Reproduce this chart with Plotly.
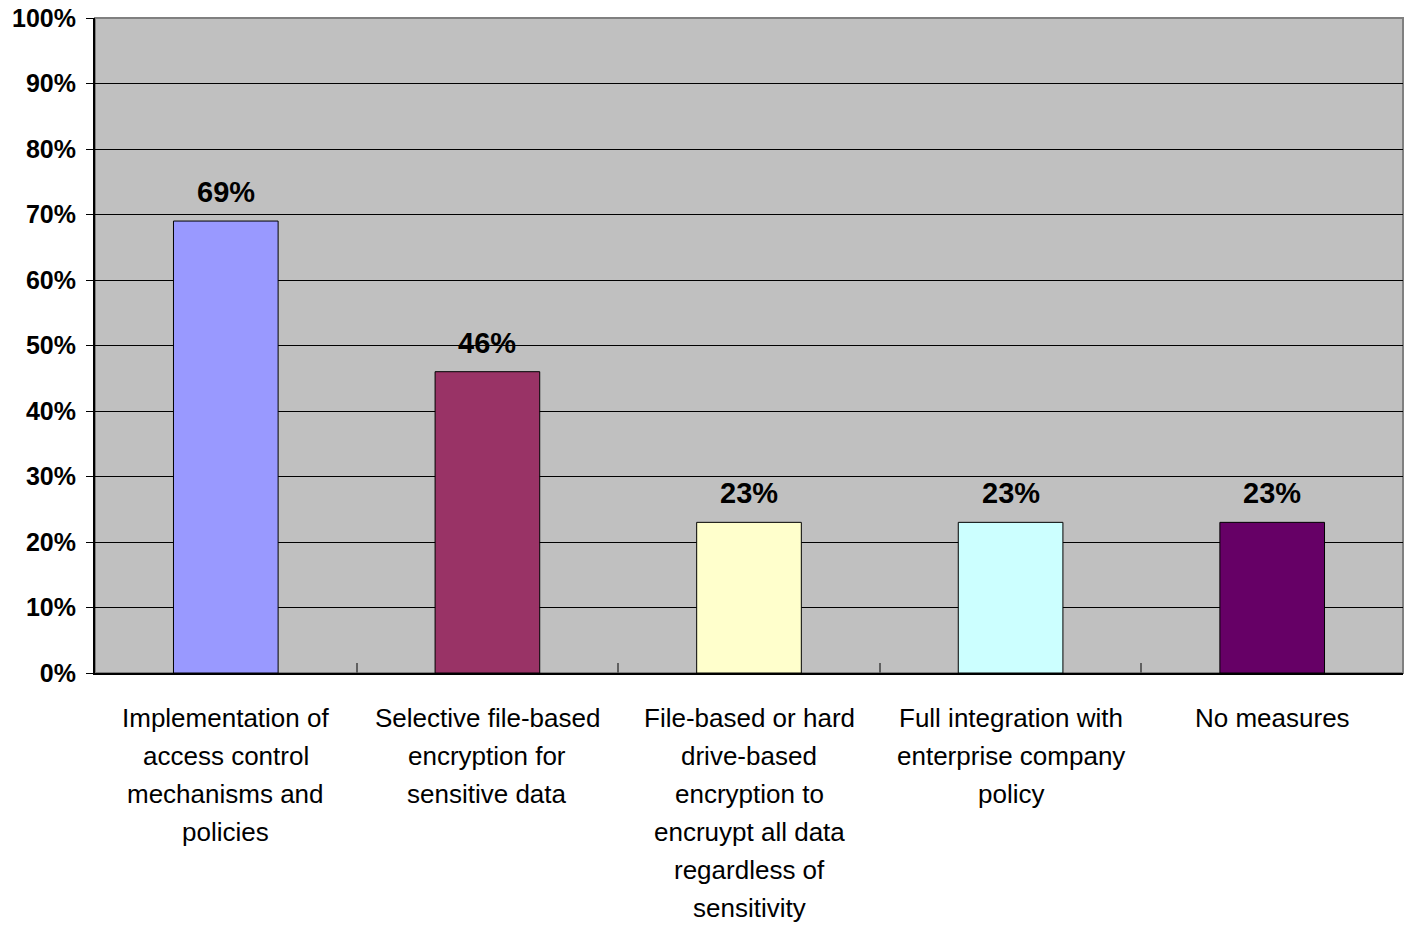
import plotly.graph_objects as go

categories = [
    "Implementation of access control mechanisms and policies",
    "Selective file-based encryption for sensitive data",
    "File-based or hard drive-based encryption to encruypt all data regardless of sensitivity",
    "Full integration with enterprise company policy",
    "No measures",
]
category_lines = [
    ["Implementation of", "access control", "mechanisms and", "policies"],
    ["Selective file-based", "encryption for", "sensitive data"],
    ["File-based or hard", "drive-based", "encryption to", "encruypt all data", "regardless of", "sensitivity"],
    ["Full integration with", "enterprise company", "policy"],
    ["No measures"],
]
values = [0.69, 0.46, 0.23, 0.23, 0.23]
bar_colors = ["#9999FF", "#993366", "#FFFFCC", "#CCFFFF", "#660066"]
value_labels = ["69%", "46%", "23%", "23%", "23%"]

fig = go.Figure()
fig.add_trace(go.Bar(
    x=categories,
    y=values,
    marker=dict(color=bar_colors, line=dict(color="black", width=1)),
    width=0.4,
    hoverinfo="skip",
))

# value labels above each bar
for cat, v, lab in zip(categories, values, value_labels):
    fig.add_annotation(
        x=cat, y=v, text="<b>%s</b>" % lab, showarrow=False,
        yanchor="bottom", yshift=11,
        font=dict(family="Liberation Sans, Arial, sans-serif", size=29, color="black"),
    )

# wrapped category labels under the axis, one line each
LINE_GAP = 38
for cat, lines in zip(categories, category_lines):
    for i, line in enumerate(lines):
        fig.add_annotation(
            x=cat, y=0, text=line, showarrow=False,
            yanchor="middle", yshift=-(45 + i * LINE_GAP),
            font=dict(family="Liberation Sans, Arial, sans-serif", size=26, color="black"),
        )

# plot-area frame (grey on top/right, axes draw black left/bottom)
fig.add_shape(type="rect", xref="paper", yref="paper", x0=0, y0=0, x1=1, y1=1,
              line=dict(color="#808080", width=2), layer="below")

fig.update_layout(
    width=1408, height=933,
    margin=dict(l=95, r=5, t=18, b=260),
    paper_bgcolor="white",
    plot_bgcolor="#C0C0C0",
    showlegend=False,
    font=dict(family="Liberation Sans, Arial, sans-serif", color="black"),
)

fig.update_xaxes(
    type="category",
    tickson="boundaries", ticks="inside", ticklen=10, tickcolor="#606060", tickwidth=2,
    showticklabels=False,
    showgrid=False, zeroline=False,
    showline=True, linecolor="black", linewidth=2,
)

fig.update_yaxes(
    range=[0, 1], dtick=0.1, tickformat=".0%",
    ticks="outside", ticklen=7, tickcolor="black",
    showgrid=True, gridcolor="black", gridwidth=1,
    zeroline=False,
    showline=True, linecolor="black", linewidth=2,
    tickfont=dict(family="Liberation Sans, Arial, sans-serif", size=25, color="black", weight="bold"),
    ticklabelstandoff=5,
)

fig.write_html("out.html")
